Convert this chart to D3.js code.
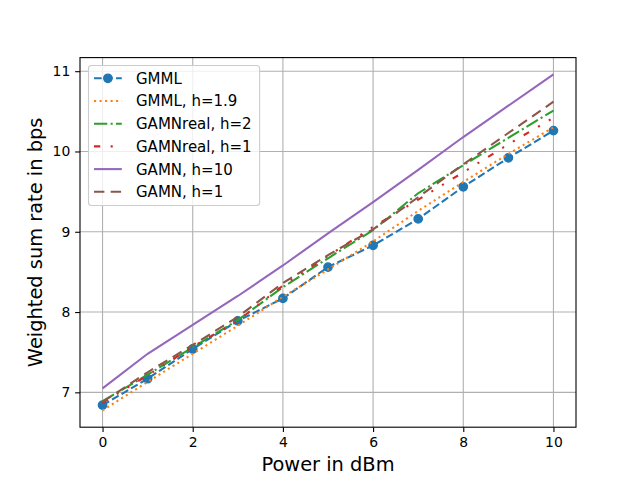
<!DOCTYPE html>
<html>
<head>
<meta charset="utf-8">
<script src="https://cdn.jsdelivr.net/npm/d3@7"></script>
<style>
  body { margin: 0; background: #fff; }
  text { font-family: "DejaVu Sans", sans-serif; }
</style>
</head>
<body>
<div id="chart"></div>
<script>
// data
var power = [0, 1, 2, 3, 4, 5, 6, 7, 8, 9, 10];
var gmml       = [6.84, 7.17, 7.54, 7.89, 8.17, 8.56, 8.83, 9.16, 9.56, 9.92, 10.26];
var gmmlH19    = [6.775, 7.13, 7.48, 7.83, 8.19, 8.53, 8.88, 9.26, 9.62, 9.97, 10.30];
var gamnReal2  = [6.89, 7.22, 7.56, 7.90, 8.31, 8.67, 9.02, 9.48, 9.83, 10.17, 10.51];
var gamnReal1  = [6.87, 7.21, 7.57, 7.89, 8.33, 8.70, 9.06, 9.40, 9.74, 10.09, 10.42];
var gamnH10    = [7.05, 7.48, 7.84, 8.20, 8.58, 8.98, 9.37, 9.77, 10.18, 10.57, 10.96];
var gamnH1     = [6.88, 7.25, 7.59, 7.94, 8.36, 8.71, 9.03, 9.43, 9.84, 10.23, 10.62];
var labels = ["GMML", "GMML, h=1.9", "GAMNreal, h=2", "GAMNreal, h=1", "GAMN, h=10", "GAMN, h=1"];
var xTicks = [0, 2, 4, 6, 8, 10];
var yTicks = [7, 8, 9, 10, 11];

var series = [
  {name: labels[0], values: gmml,      color: "#1f77b4", dash: "7.7,3.3", marker: true},
  {name: labels[1], values: gmmlH19,   color: "#ff7f0e", dash: "2.08,3.44"},
  {name: labels[2], values: gamnReal2, color: "#2ca02c", dash: "13.3,3.3,2.08,3.3"},
  {name: labels[3], values: gamnReal1, color: "#d62728", dash: "6.25,10.4,2.08,10.4,2.08,10.4"},
  {name: labels[4], values: gamnH10,   color: "#9467bd", dash: null},
  {name: labels[5], values: gamnH1,    color: "#8c564b", dash: "10.4,6.25"}
];

// figure layout (matplotlib defaults)
var W = 640, H = 480;
var margin = {top: 57.6, right: 64, bottom: 52.8, left: 80};
var width = W - margin.left - margin.right,
    height = H - margin.top - margin.bottom;

var svg = d3.select("#chart")
  .append("svg")
    .attr("width", W)
    .attr("height", H);

var g = svg.append("g")
    .attr("transform", "translate(" + margin.left + "," + margin.top + ")");

// scales with 5% padding like autoscale
var xPad = 0.05 * (d3.max(power) - d3.min(power));
var x = d3.scaleLinear()
  .domain([d3.min(power) - xPad, d3.max(power) + xPad])
  .range([0, width]);

var allVals = d3.merge(series.map(function(s) { return s.values; }));
var yPad = 0.05 * (d3.max(allVals) - d3.min(allVals));
var y = d3.scaleLinear()
  .domain([d3.min(allVals) - yPad, d3.max(allVals) + yPad])
  .range([height, 0]);

// grid
g.append("g").selectAll("line")
  .data(xTicks).enter().append("line")
    .attr("x1", function(d) { return x(d); })
    .attr("x2", function(d) { return x(d); })
    .attr("y1", 0).attr("y2", height)
    .attr("stroke", "#b0b0b0").attr("stroke-width", 1.1);
g.append("g").selectAll("line")
  .data(yTicks).enter().append("line")
    .attr("y1", function(d) { return y(d); })
    .attr("y2", function(d) { return y(d); })
    .attr("x1", 0).attr("x2", width)
    .attr("stroke", "#b0b0b0").attr("stroke-width", 1.1);

// lines
var line = d3.line()
  .x(function(d, i) { return x(power[i]); })
  .y(function(d) { return y(d); });

svg.append("defs").append("clipPath").attr("id", "clip")
  .append("rect").attr("width", width).attr("height", height);

var plot = g.append("g").attr("clip-path", "url(#clip)");

series.forEach(function(s) {
  plot.append("path")
    .datum(s.values)
    .attr("d", line)
    .attr("fill", "none")
    .attr("stroke", s.color)
    .attr("stroke-width", 2.08)
    .attr("stroke-dasharray", s.dash)
    .attr("stroke-linecap", "butt");
  if (s.marker) {
    plot.append("g").selectAll("circle")
      .data(s.values).enter().append("circle")
        .attr("cx", function(d, i) { return x(power[i]); })
        .attr("cy", function(d) { return y(d); })
        .attr("r", 4.17)
        .attr("fill", s.color)
        .attr("stroke", s.color)
        .attr("stroke-width", 1.39);
  }
});

// axes
var xAxis = g.append("g")
  .attr("transform", "translate(0," + height + ")")
  .call(d3.axisBottom(x).tickValues(xTicks).tickSize(4.86).tickPadding(4.86).tickFormat(d3.format("d")));
var yAxis = g.append("g")
  .call(d3.axisLeft(y).tickValues(yTicks).tickSize(4.86).tickPadding(4.86).tickFormat(d3.format("d")));
[xAxis, yAxis].forEach(function(a) {
  a.select(".domain").remove();
  a.selectAll("line").attr("stroke", "#000").attr("stroke-width", 1.1);
  a.selectAll("text").attr("font-size", "13.9px").attr("fill", "#000")
    .attr("font-family", "DejaVu Sans, sans-serif");
});

// frame
g.append("rect")
  .attr("width", width).attr("height", height)
  .attr("fill", "none").attr("stroke", "#000").attr("stroke-width", 1.1);

// axis labels
svg.append("text")
  .attr("x", margin.left + width / 2)
  .attr("y", 471)
  .attr("text-anchor", "middle")
  .attr("font-size", "19.4px")
  .text("Power in dBm");
svg.append("text")
  .attr("transform", "translate(42," + (margin.top + height / 2) + ") rotate(-90)")
  .attr("text-anchor", "middle")
  .attr("font-size", "19.4px")
  .text("Weighted sum rate in bps");

// legend
var leg = svg.append("g").attr("transform", "translate(88.5,65.5)");
var legBox = leg.append("rect")
  .attr("rx", 3).attr("ry", 3)
  .attr("fill", "#fff").attr("fill-opacity", 0.8)
  .attr("stroke", "#cccccc").attr("stroke-width", 1.1);

var rowH = 22.7;
var maxW = 0;
series.forEach(function(s, i) {
  var cy = 12.8 + i * rowH;
  leg.append("line")
    .attr("x1", 5.5).attr("x2", 33.3)
    .attr("y1", cy).attr("y2", cy)
    .attr("stroke", s.color).attr("stroke-width", 2.08)
    .attr("stroke-dasharray", s.dash);
  if (s.marker) {
    leg.append("circle").attr("cx", 19.4).attr("cy", cy).attr("r", 4.17)
      .attr("fill", s.color).attr("stroke", s.color).attr("stroke-width", 1.39);
  }
  var t = leg.append("text")
    .attr("x", 47.5).attr("y", cy + 5.4)
    .attr("font-size", "15px")
    .text(s.name);
  maxW = Math.max(maxW, t.node().getComputedTextLength());
});
legBox.attr("width", 47.5 + maxW + 8).attr("height", 140);
</script>
</body>
</html>
